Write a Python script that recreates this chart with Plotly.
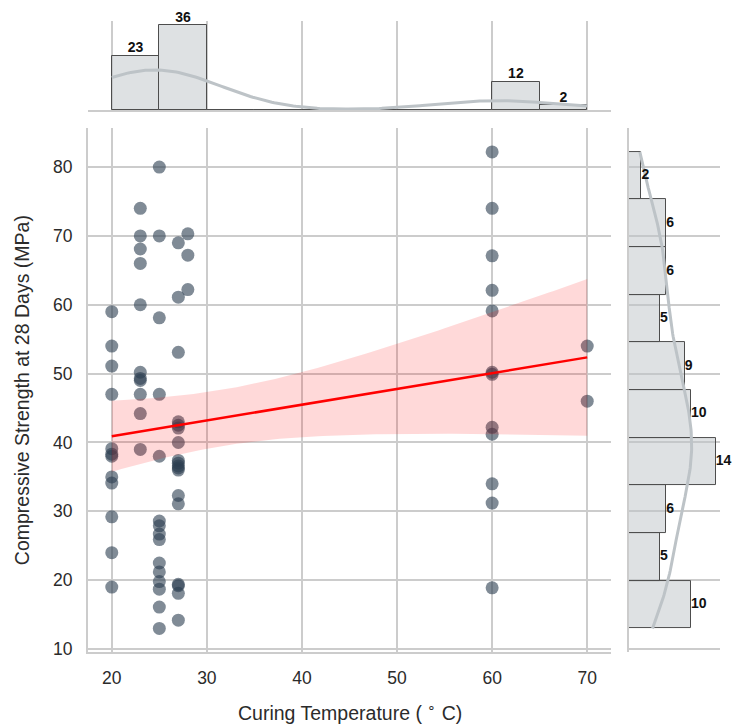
import numpy as np
import plotly.graph_objects as go

# ---------------- data ----------------
temps = [20, 23, 25, 27, 28, 60, 70]
strength_20 = [59.0, 54.0, 51.1, 47.0, 39.1, 38.3, 38.0, 35.0, 34.1, 29.2, 24.0, 19.0]
strength_23 = [74.0, 70.0, 68.1, 66.0, 60.0, 50.2, 49.3, 49.0, 47.0, 44.2, 39.0]
strength_25 = [80.0, 70.0, 58.1, 47.0, 38.0, 28.6, 27.9, 26.7, 25.9, 22.5, 21.2, 19.8,
               18.7, 16.1, 13.0]
strength_27 = [69.0, 61.1, 53.1, 43.0, 42.5, 42.1, 40.0, 37.4, 37.0, 36.6, 36.3, 36.0,
               32.3, 31.1, 19.4, 19.2, 18.1, 14.2]
strength_28 = [70.3, 67.2, 62.2]
strength_60 = [82.2, 74.0, 67.1, 62.1, 59.1, 50.2, 49.9, 42.2, 41.2, 34.0, 31.2, 18.9]
strength_70 = [54.0, 46.0]
x_ticks = [20, 30, 40, 50, 60, 70]
y_ticks = [10, 20, 30, 40, 50, 60, 70, 80]

groups = [strength_20, strength_23, strength_25, strength_27, strength_28,
          strength_60, strength_70]
x = np.concatenate([[t] * len(g) for t, g in zip(temps, groups)]).astype(float)
y = np.concatenate(groups).astype(float)
n = len(x)

# ---------------- derived statistics ----------------
def kde(data, grid):
    bw = data.std(ddof=1) * len(data) ** (-1 / 5)
    z = (grid[:, None] - data[None, :]) / bw
    return np.exp(-0.5 * z ** 2).sum(axis=1) / (len(data) * bw * np.sqrt(2 * np.pi))

xc, xe = np.histogram(x, bins=10)
yc, ye = np.histogram(y, bins=10)
xw = xe[1] - xe[0]
yw = ye[1] - ye[0]

gx = np.linspace(x.min(), x.max(), 200)
gy = np.linspace(y.min(), y.max(), 200)
kx = kde(x, gx) * n * xw
ky = kde(y, gy) * n * yw

# regression + 95% CI
xm = x.mean()
b = ((x - xm) * (y - y.mean())).sum() / ((x - xm) ** 2).sum()
a = y.mean() - b * xm
resid = y - (a + b * x)
s = np.sqrt((resid ** 2).sum() / (n - 2))
sxx = ((x - xm) ** 2).sum()
gr = np.linspace(x.min(), x.max(), 100)
fit = a + b * gr
se = s * np.sqrt(1 / n + (gr - xm) ** 2 / sxx)
tq = 1.994
lo, hi = fit - tq * se, fit + tq * se

# ---------------- layout geometry ----------------
W, H = 733, 728
VS = 1 / 0.99  # vertical compensation


def py(p):
    return 1 - (p * VS) / H


main_x = [88 / W, 611 / W]
marg_x = [629 / W, 720 / W]
main_y = [py(652), py(128)]
top_y = [py(110), py(21)]
xr = [x.min() - 0.05 * (x.max() - x.min()), x.max() + 0.05 * (x.max() - x.min())]
yr = [y.min() - 0.05 * (y.max() - y.min()), y.max() + 0.05 * (y.max() - y.min())]

GRID = "#cccccc"
FONT = "Liberation Sans, Arial, sans-serif"
BAR_FILL = "rgba(189,195,199,0.5)"
BAR_EDGE = "#4d4d4d"
KDE_COL = "#bdc3c7"

fig = go.Figure()

# main scatter
fig.add_trace(go.Scatter(x=x, y=y, mode="markers",
                         marker=dict(size=13, color="#2c3e50", opacity=0.6,
                                     line=dict(width=0)),
                         xaxis="x", yaxis="y", showlegend=False))
# CI band
fig.add_trace(go.Scatter(x=np.concatenate([gr, gr[::-1]]),
                         y=np.concatenate([hi, lo[::-1]]),
                         fill="toself", fillcolor="rgba(255,0,0,0.15)",
                         line=dict(width=0), mode="lines",
                         xaxis="x", yaxis="y", showlegend=False, hoverinfo="skip"))
# regression line
fig.add_trace(go.Scatter(x=gr, y=fit, mode="lines", line=dict(color="red", width=2.5),
                         xaxis="x", yaxis="y", showlegend=False))

# top marginal histogram
xcent = (xe[:-1] + xe[1:]) / 2
fig.add_trace(go.Bar(x=xcent, y=xc, width=xw,
                     marker=dict(color=BAR_FILL, line=dict(color=BAR_EDGE, width=1)),
                     xaxis="x2", yaxis="y2", showlegend=False))
fig.add_trace(go.Scatter(x=gx, y=kx, mode="lines", line=dict(color=KDE_COL, width=3),
                         xaxis="x2", yaxis="y2", showlegend=False))
mask = xc > 0
fig.add_trace(go.Scatter(x=xcent[mask], y=xc[mask], mode="text",
                         text=[str(c) for c in xc[mask]], textposition="top center",
                         textfont=dict(family=FONT, size=14, color="#111",
                                       weight="bold"),
                         cliponaxis=False, xaxis="x2", yaxis="y2", showlegend=False))

# right marginal histogram
ycent = (ye[:-1] + ye[1:]) / 2
fig.add_trace(go.Bar(y=ycent, x=yc, width=yw, orientation="h",
                     marker=dict(color=BAR_FILL, line=dict(color=BAR_EDGE, width=1)),
                     xaxis="x3", yaxis="y3", showlegend=False))
fig.add_trace(go.Scatter(x=ky, y=gy, mode="lines", line=dict(color=KDE_COL, width=3),
                         xaxis="x3", yaxis="y3", showlegend=False))
fig.add_trace(go.Scatter(x=yc, y=ycent, mode="text",
                         text=[str(c) for c in yc], textposition="middle right",
                         textfont=dict(family=FONT, size=14, color="#111",
                                       weight="bold"),
                         cliponaxis=False, xaxis="x3", yaxis="y3", showlegend=False))

tickfont = dict(family=FONT, size=17.5, color="#2b2b2b")
titlefont = dict(family=FONT, size=19.5, color="#2b2b2b")
fig.update_layout(
    width=W, height=H, autosize=False, margin=dict(l=0, r=0, t=0, b=0),
    paper_bgcolor="white", plot_bgcolor="white",
    bargap=0,
    xaxis=dict(domain=main_x, anchor="y", range=xr, tickvals=x_ticks,
               showgrid=True, gridcolor=GRID, gridwidth=1.5, zeroline=False,
               showline=True, linecolor=GRID, linewidth=2, ticks="",
               tickfont=tickfont, ticklabelstandoff=9),
    yaxis=dict(domain=main_y, anchor="x", range=yr, tickvals=y_ticks,
               showgrid=True, gridcolor=GRID, gridwidth=1.5, zeroline=False,
               showline=True, linecolor=GRID, linewidth=2, ticks="",
               tickfont=tickfont, ticklabelstandoff=10),
    xaxis2=dict(domain=main_x, anchor="y2", range=xr, tickvals=x_ticks,
                showticklabels=False, showgrid=True, gridcolor=GRID, gridwidth=1.5,
                zeroline=False, showline=True, linecolor=GRID, linewidth=2, ticks=""),
    yaxis2=dict(domain=top_y, anchor="x2", range=[0, xc.max() * 1.05],
                showticklabels=False, showgrid=False, zeroline=False, showline=False,
                ticks=""),
    xaxis3=dict(domain=marg_x, anchor="y3", range=[0, yc.max() * 1.05],
                showticklabels=False, showgrid=False, zeroline=False, showline=False,
                ticks=""),
    yaxis3=dict(domain=main_y, anchor="x3", range=yr, tickvals=y_ticks,
                showticklabels=False, showgrid=True, gridcolor=GRID, gridwidth=1.5,
                zeroline=False, showline=True, linecolor=GRID, linewidth=2, ticks=""),
    annotations=[
        dict(text="Curing Temperature ( <sup>∘</sup> C)", xref="paper", yref="paper",
             x=(main_x[0] + main_x[1]) / 2, y=py(712), showarrow=False,
             xanchor="center", yanchor="middle", font=titlefont),
        dict(text="Compressive Strength at 28 Days (MPa)", xref="paper", yref="paper",
             x=22 / W, y=(main_y[0] + main_y[1]) / 2, showarrow=False, textangle=-90,
             xanchor="center", yanchor="middle", font=titlefont),
    ],
)

fig.write_html("out.html", config={"responsive": False})
